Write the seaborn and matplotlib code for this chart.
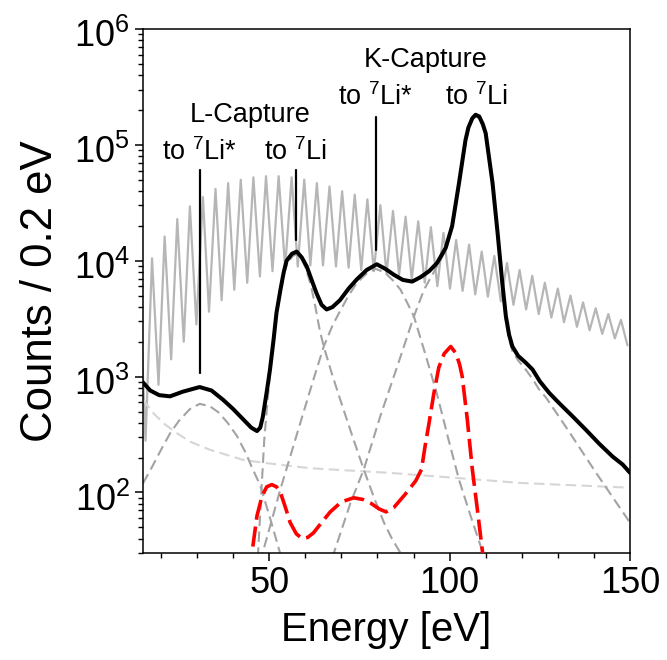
import numpy as np
import pandas as pd
import matplotlib
matplotlib.use("Agg")
import matplotlib.pyplot as plt
from matplotlib.ticker import MultipleLocator, LogLocator, NullFormatter
from matplotlib.transforms import ScaledTranslation
import seaborn as sns

# ---------------- data ----------------
# measured spectrum (black)
meas_E = [15, 17, 19.5, 22.5, 26, 30.7, 34, 37.2, 40, 42.8, 45, 46.6, 47.5, 48.2, 49.4, 50.2,
          51.2, 52, 53.1, 54, 54.8, 56.3, 57.6, 59, 60.4, 61.8, 63.1, 64.5, 65.9, 67.5, 69.6,
          72, 74.3, 77, 79.8, 82.2, 84.5, 87, 89.6, 92, 94.3, 96.5, 98.9, 100.7, 102.6, 104.4,
          105.2, 106.3, 107.2, 108.2, 109.2, 110, 111.9, 113.3, 114.6, 115.6, 116.5, 117.4,
          119, 121.1, 123, 125, 127.6, 130.4, 134, 137.8, 141.5, 145.2, 148, 150]
meas_C = [891, 759, 692, 676, 741, 813, 759, 631, 525, 427, 363, 339, 363, 447, 776, 1150,
          2090, 3550, 5620, 7940, 10000, 11500, 12000, 10700, 8910, 6760, 5250, 4170, 3800, 3980, 4570,
          5750, 6920, 8320, 9330, 8510, 7590, 6840, 6610, 7240, 8130, 9550, 12900, 19950, 46800, 110000,
          141000, 170000, 182000, 176000, 151000, 126000, 46800, 17400, 6460, 3310, 2290, 1820,
          1510, 1320, 1150, 912, 724, 589, 457, 347, 263, 204, 174, 148]

# oscillating simulated curve (light grey): maxima and minima
osc_max_E = [14.0, 17.5, 21.0, 24.5, 28.0, 31.6, 35.1, 38.6, 42.1, 45.6, 49.1, 52.6, 56.2, 59.7,
             63.2, 66.7, 70.2, 73.7, 77.2, 80.8, 84.3, 87.8, 91.3, 94.8, 98.3, 101.8, 105.4,
             108.9, 112.4, 115.9, 119.4, 122.9, 126.4, 130.0, 133.5, 137.0, 140.5, 144.0, 147.5]
osc_max_C = [6300, 10500, 16200, 22900, 29500, 35500, 41700, 46800, 50100, 52500, 53700, 53700,
             52500, 50100, 46800, 43700, 39800, 37200, 33900, 30200, 26900, 24000, 21900, 19500,
             17400, 15100, 13800, 12000, 11000, 9550, 8320, 7410, 6460, 5750, 5010, 4370, 3890,
             3470, 3090]
osc_min_E = [15.7, 19.3, 22.8, 26.3, 29.8, 33.3, 36.8, 40.3, 43.9, 47.4, 50.9, 54.4, 57.9, 61.4,
             64.9, 68.5, 72.0, 75.5, 79.0, 82.5, 86.0, 89.5, 93.1, 96.6, 100.1, 103.6, 107.1,
             110.6, 114.2, 117.7, 121.2, 124.7, 128.2, 131.7, 135.3, 138.8, 142.3, 145.8, 149.3]
osc_min_C = [280, 850, 1410, 2000, 2820, 3630, 4570, 5620, 6460, 7330, 8130, 8710, 8910, 9120,
             9120, 8910, 8710, 8320, 8130, 7760, 7590, 6920, 6460, 6030, 5750, 5500, 5130, 4900,
             4470, 4170, 3800, 3470, 3240, 2950, 2690, 2510, 2340, 2140, 1860]

# fit components (grey dashed)
L1_E = [15, 17.5, 20, 22.5, 25, 28, 30.7, 33.5, 36, 38.5, 41, 43.5, 45, 47.5, 50.3, 53, 55]
L1_C = [120, 166, 234, 324, 417, 525, 582, 556, 490, 398, 309, 219, 170, 115, 59, 30, 18]

L2_E = [46.5, 46.9, 47.8, 48.6, 49.4, 50.3, 51.2, 52, 53, 54, 55, 56.5, 57.6, 59, 60.4, 61.6,
        62.8, 64, 65.1, 67.4, 69.7, 73, 76.2, 79, 81.8, 84, 86.4, 89]
L2_C = [20, 30, 100, 280, 560, 1120, 2090, 3550, 5370, 7590, 9550, 10960, 11480, 10470, 8130,
        6030, 3980, 2510, 1820, 1050, 630, 309, 158, 91, 55, 40, 30, 22]

K1_E = [44, 48.4, 53.1, 58.6, 62, 65.1, 67.5, 69.7, 72, 74.3, 77, 79.5, 82, 84.3, 86.4, 88.2,
        90.1, 93.3, 96.5, 99.5, 102.6, 105.8, 109.1, 112]
K1_C = [10, 32, 107, 398, 891, 1820, 2750, 3720, 5010, 6460, 7760, 8510, 7940, 6760, 5620, 4370,
        3310, 1550, 708, 302, 129, 63, 31, 16]

K2_E = [64, 67.9, 72.5, 76.2, 80.8, 85.5, 90.1, 92.9, 94.3, 96.5, 98.9, 100.7, 102.6, 104.4,
        105.2, 106.3, 107.2, 108.2, 109.2, 110, 111.9, 113.3, 114.6, 115.6, 116.5, 117.4, 119,
        121.1, 123, 124.8, 126.7, 130.4, 133, 137, 140.6, 145, 150]
K2_C = [11, 30, 81, 158, 457, 1230, 3310, 5620, 6760, 8910, 12300, 19100, 44700, 105000,
        135000, 166000, 176000, 170000, 145000, 120000, 44700, 16200, 6030, 3020, 2090, 1660, 1380,
        1150, 955, 776, 661, 447, 339, 219, 148, 93, 55]

# background (very light dashed)
bg_E = [15, 18, 21, 24.3, 28, 33.5, 42.8, 50, 61.3, 83, 100, 119.3, 150]
bg_C = [631, 479, 389, 327, 275, 234, 191, 178, 162, 148, 135, 121, 110]

# red dashed curve
red_E = [44.6, 45.2, 46.6, 48, 49.3, 50.7, 52, 53.1, 54.5, 55.8, 57.5, 59.1, 60.7, 62.3, 64.5,
         66.9, 70, 73.4, 76, 78.1, 80.5, 82.4, 84.5, 87.5, 90.6, 92.2, 93.2, 94.3, 95.6, 97,
         98.5, 100.3, 101.8, 102.8, 103.5, 104.9, 106.3, 107.7, 109.1, 109.8]
red_C = [20, 30, 63, 93, 112, 117, 112, 100, 74, 55, 44, 40, 41, 45, 55, 68, 83, 90, 87, 81, 72,
         68, 74, 95, 126, 158, 251, 398, 708, 1200, 1580, 1820, 1580, 1260, 1000, 427, 158, 71,
         31, 20]

# annotation markers (energy, bottom, top) and labels
marker_E = [30.8, 57.5, 79.7]
marker_lo = [1076, 15200, 12400]
marker_hi = [60800, 60800, 175000]
label_txt = ["L-Capture", "to $^{7}$Li*", "to $^{7}$Li", "K-Capture", "to $^{7}$Li*", "to $^{7}$Li"]
label_E = [44.7, 30.6, 57.4, 93.3, 79.4, 107.4]
label_C = [181000, 87500, 87500, 541000, 261000, 261000]

x_ticks = [50, 100, 150]
y_ticks = [1e2, 1e3, 1e4, 1e5, 1e6]

# ---------------- figure ----------------
sns.set_style("ticks")
plt.rcParams["font.family"] = ["Liberation Sans", "DejaVu Sans"]
plt.rcParams["mathtext.fontset"] = "custom"
plt.rcParams["mathtext.rm"] = "Liberation Sans"
plt.rcParams["mathtext.it"] = "Liberation Sans:italic"
plt.rcParams["mathtext.bf"] = "Liberation Sans:bold"
plt.rcParams["text.color"] = "black"
plt.rcParams["axes.labelcolor"] = "black"

fig = plt.figure(figsize=(6.67, 6.60), dpi=100)
ax = fig.add_axes([0.2144, 0.162, 0.9445 - 0.2144, 0.956 - 0.162])
ax.set_yscale("log")

# interleave oscillation extrema
osc = pd.DataFrame({"E": osc_max_E + osc_min_E, "C": osc_max_C + osc_min_C}).sort_values("E")
sns.lineplot(data=osc, x="E", y="C", ax=ax, color="#b6b6b6", lw=1.6, sort=False,
             estimator=None, zorder=1, solid_joinstyle="round")

sns.lineplot(x=bg_E, y=bg_C, ax=ax, color="#d6d6d6", lw=1.5, linestyle=(0, (5, 2.6)),
             sort=False, estimator=None, zorder=2)
for cE, cC in [(L1_E, L1_C), (L2_E, L2_C), (K1_E, K1_C), (K2_E, K2_C)]:
    sns.lineplot(x=cE, y=cC, ax=ax, color="#a3a3a3", lw=1.5, linestyle=(0, (5, 2.6)),
                 sort=False, estimator=None, zorder=2)

sns.lineplot(x=meas_E, y=meas_C, ax=ax, color="black", lw=2.9, sort=False, estimator=None,
             zorder=4, solid_joinstyle="round")
sns.lineplot(x=red_E, y=red_C, ax=ax, color="#ff0000", lw=2.6, linestyle=(0, (5.6, 1.9)),
             sort=False, estimator=None, zorder=5)

for e, lo, hi in zip(marker_E, marker_lo, marker_hi):
    ax.plot([e, e], [lo, hi], color="black", lw=1.6, zorder=4)
for t, e, c in zip(label_txt, label_E, label_C):
    ax.text(e, c, t, ha="center", va="center", fontsize=19.5, color="black", zorder=6)

ax.set_xlim(15, 150)
ax.set_ylim(30, 1e6)
ax.set_xticks(x_ticks)
ax.xaxis.set_minor_locator(MultipleLocator(10))
ax.set_yticks(y_ticks)
ax.yaxis.set_minor_locator(LogLocator(base=10, subs=np.arange(2, 10)))
ax.yaxis.set_minor_formatter(NullFormatter())

ax.tick_params(axis="both", which="major", direction="out", length=5.5, width=1.1,
               labelsize=26, pad=4, color="black", labelcolor="black")
ax.tick_params(axis="both", which="minor", direction="out", length=3.3, width=1.0, color="black")
ax.tick_params(top=False, right=False, which="both")
for s in ax.spines.values():
    s.set_visible(True)
    s.set_linewidth(1.1)
    s.set_color("black")

# y tick labels sit slightly lower relative to their ticks in the reference
shift = ScaledTranslation(0, -4 / 100, fig.dpi_scale_trans)
for lab in ax.get_yticklabels():
    lab.set_transform(lab.get_transform() + shift)

ax.set_xlabel("Energy [eV]", fontsize=29, labelpad=7)
ax.set_ylabel("Counts / 0.2 eV", fontsize=31.5, labelpad=9)

fig.savefig("out.png", dpi=100)
